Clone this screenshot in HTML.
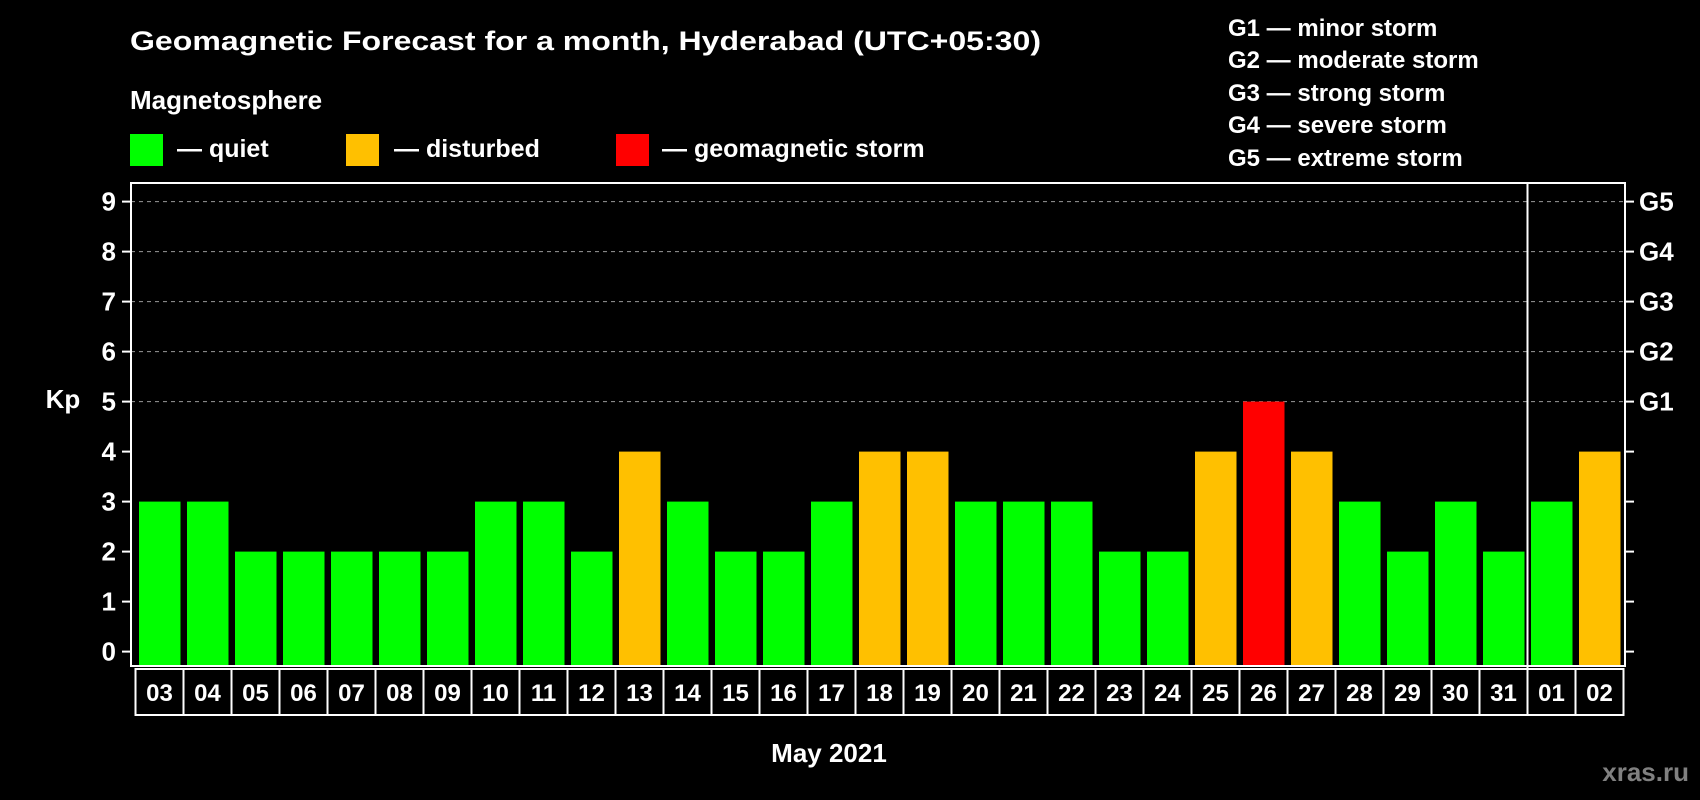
<!DOCTYPE html>
<html><head><meta charset="utf-8"><style>
html,body{margin:0;padding:0;background:#000;}
svg{display:block;font-family:"Liberation Sans",Arial,sans-serif;font-weight:bold;}
</style></head><body>
<svg id="chart" width="1700" height="800" viewBox="0 0 1700 800">
<rect width="1700" height="800" fill="#000"/>
<text x="130" y="50" fill="#fff" font-size="27" textLength="911" lengthAdjust="spacingAndGlyphs">Geomagnetic Forecast for a month, Hyderabad (UTC+05:30)</text>
<text x="130" y="109" fill="#fff" font-size="26">Magnetosphere</text>
<g><rect x="130" y="134" width="33" height="32" fill="#00ff00"/><text x="177" y="157" fill="#fff" font-size="25">— quiet</text></g>
<g><rect x="346" y="134" width="33" height="32" fill="#ffc000"/><text x="394" y="157" fill="#fff" font-size="25">— disturbed</text></g>
<g><rect x="616" y="134" width="33" height="32" fill="#ff0000"/><text x="662" y="157" fill="#fff" font-size="25">— geomagnetic storm</text></g>
<g font-size="24" fill="#fff">
<text x="1228" y="36">G1 — minor storm</text>
<text x="1228" y="68">G2 — moderate storm</text>
<text x="1228" y="101">G3 — strong storm</text>
<text x="1228" y="133">G4 — severe storm</text>
<text x="1228" y="166">G5 — extreme storm</text>
</g>
<g id="plot"></g>
<text x="63" y="408" fill="#fff" font-size="26" text-anchor="middle">Kp</text>
<text x="829" y="762" fill="#fff" font-size="26" text-anchor="middle">May 2021</text>
<text x="1689" y="781" fill="#808080" font-size="26" text-anchor="end">xras.ru</text>
</svg>
<script>
const days = ["03","04","05","06","07","08","09","10","11","12","13","14","15","16","17","18","19","20","21","22","23","24","25","26","27","28","29","30","31","01","02"];
const kpValues = [3,3,2,2,2,2,2,3,3,2,4,3,2,2,3,4,4,3,3,3,2,2,4,5,4,3,2,3,2,3,4];
const yTicks = [0,1,2,3,4,5,6,7,8,9];
const gLabels = ["G1","G2","G3","G4","G5"];
const gLevels = [5,6,7,8,9];
const monthBreakIndex = 29;

const NS = "http://www.w3.org/2000/svg";
const g = document.getElementById("plot");
const L = 131, R = 1625, T = 183, B = 666;
const y0px = 651.6, unit = 50;
const pitch = 48, barW = 41.5, firstBar = 139;
function yScale(v){ return y0px - v*unit; }
function xScale(i){ return firstBar + i*pitch; }
function mk(tag, attrs){ const e = document.createElementNS(NS, tag); for (const k in attrs) e.setAttribute(k, attrs[k]); g.appendChild(e); return e; }
function color(v){ return v >= 5 ? "#ff0000" : (v >= 4 ? "#ffc000" : "#00ff00"); }

// grid lines
gLevels.forEach(function(v){
  const l = mk("line", {x1:L, x2:R, y1:yScale(v), y2:yScale(v), stroke:"#999", "stroke-width":1, "stroke-dasharray":"4,4"});
  
  
});
// bars
kpValues.forEach(function(v, i){
  const r = mk("rect", {x:xScale(i), y:yScale(v), width:barW, height:y0px - yScale(v) + 14, fill:color(v)});
  
  
});
// frame
const fr = mk("rect", {x:L, y:T, width:R-L, height:B-T, fill:"none", stroke:"#fff", "stroke-width":2});


// y ticks left and right
yTicks.forEach(function(v){
  const t1 = mk("line", {x1:L-9, x2:L, y1:yScale(v), y2:yScale(v), stroke:"#fff", "stroke-width":2});
  
  
  const t2 = mk("line", {x1:R, x2:R+9, y1:yScale(v), y2:yScale(v), stroke:"#fff", "stroke-width":2});
  
  
  const tx = mk("text", {x:116, y:yScale(v)+9, fill:"#fff", "font-size":26, "text-anchor":"end"});
  tx.textContent = v;
  
  
});
gLabels.forEach(function(lbl, i){
  const tx = mk("text", {x:1639, y:yScale(gLevels[i])+9, fill:"#fff", "font-size":26});
  tx.textContent = lbl;
  
  
});
// day label boxes
const boxL = 135.5, boxT = 669, boxB = 715;
days.forEach(function(d, i){
  const bx = boxL + i*pitch;
  const r = mk("rect", {x:bx, y:boxT, width:pitch, height:boxB-boxT, fill:"#000", stroke:"#fff", "stroke-width":2});
  
  
  const tx = mk("text", {x:bx + pitch/2, y:boxT + 32, fill:"#fff", "font-size":24, "text-anchor":"middle"});
  tx.textContent = d;
  
  
});
// month separator
const sx = boxL + monthBreakIndex*pitch;
const sep = mk("line", {x1:sx, x2:sx, y1:T, y2:boxB, stroke:"#fff", "stroke-width":2});


</script>
</body></html>
